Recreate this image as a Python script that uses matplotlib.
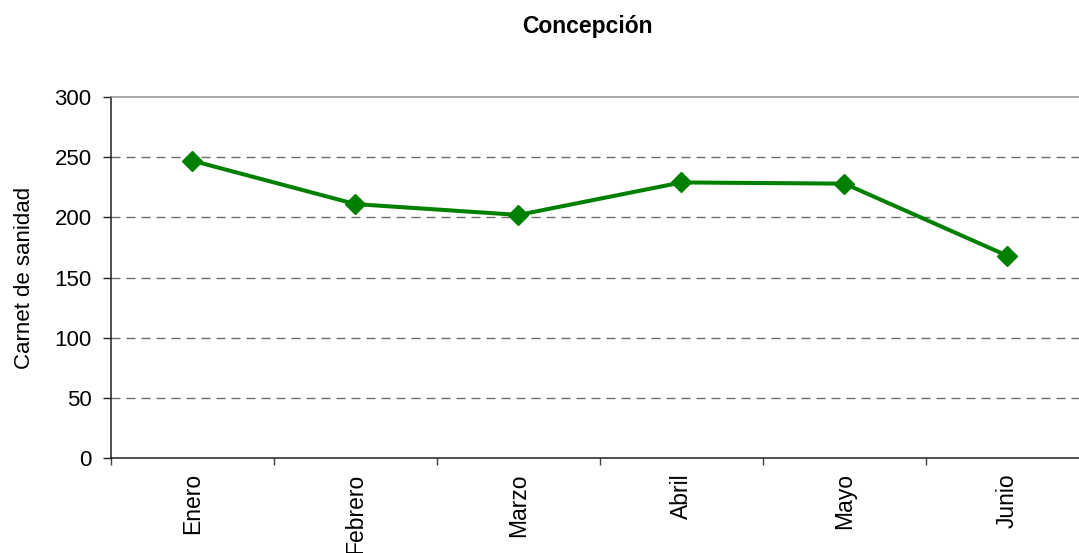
import numpy as np
import matplotlib
matplotlib.use("Agg")
import matplotlib.pyplot as plt

# data
meses = ["Enero", "Febrero", "Marzo", "Abril", "Mayo", "Junio"]
carnets = [247, 211, 202, 229, 228, 168]
y_ticks = [0, 50, 100, 150, 200, 250, 300]

plt.rcParams['font.family'] = ['Liberation Sans', 'DejaVu Sans']

fig = plt.figure(figsize=(10.79, 5.53), dpi=100)
# plot area runs a bit past the right edge, like the original
ax = fig.add_axes([111 / 1079, 1 - 458 / 553, 978 / 1079, 361 / 553])

x = np.arange(len(meses))
ax.plot(x, carnets, color='#008000', lw=2.9, marker='D', ms=10.5,
        markeredgecolor='#008000', zorder=3, clip_on=False)

ax.set_xlim(-0.5, len(meses) - 0.5)
ax.set_ylim(0, 300)
ax.set_yticks(y_ticks)
ax.set_yticklabels([str(v) for v in y_ticks], fontsize=16)

# dashed gridlines (except the top, which is solid)
for v in y_ticks[1:-1]:
    ax.axhline(v, color='#6e6e6e', lw=1.0, ls=(0, (6.5, 4.3)), zorder=1)

ax.set_xticks(x)
ax.set_xticklabels(meses, rotation=90, fontsize=16.5, va='top', ha='center')
ax.set_xticks(np.arange(-0.5, len(meses)), minor=True)
ax.tick_params(axis='x', which='major', length=0, pad=11)
ax.tick_params(axis='x', which='minor', length=5, width=1, color='#404040')
ax.tick_params(axis='y', length=6, width=1, pad=8, color='#202020')

ax.spines['left'].set_color('#202020')
ax.spines['bottom'].set_color('#202020')
ax.spines['top'].set_color('#909090')
ax.spines['right'].set_visible(False)
for s in ax.spines.values():
    s.set_linewidth(1.1)

ax.set_ylabel("Carnet de sanidad", fontsize=16, labelpad=14)
fig.text(587 / 1079, 1 - 27 / 553, "Concepción", ha='center', va='center',
         fontsize=16.5, fontweight='bold')

fig.savefig("out.png", dpi=100)
